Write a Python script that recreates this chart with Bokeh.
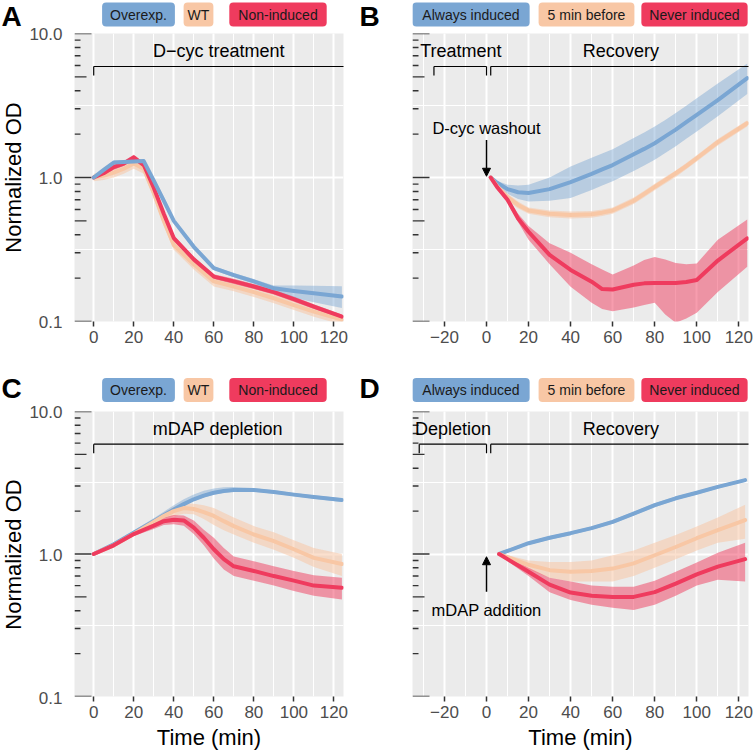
from bokeh.plotting import figure
from bokeh.layouts import column, row
from bokeh.models import (Range1d, FixedTicker, SingleIntervalTicker, CustomJSTickFormatter,
                          Label, Arrow, NormalHead)
from bokeh.embed import file_html
from bokeh.resources import INLINE

FONT = "Liberation Sans"
BLUE = "#7AA6D3"
PEACH = "#F8C7A5"
RED = "#EF3B5E"

# ---------------- data ----------------
# Panel A : D-cyc treatment
a_time = [0, 5, 10, 15, 20, 25, 30, 35, 40, 50, 60, 70, 80, 90, 100, 110, 124]
a_over = [1.00, 1.13, 1.27, 1.28, 1.29, 1.30, 0.95, 0.69, 0.50, 0.33, 0.235, 0.21, 0.19, 0.17, 0.163, 0.157, 0.149]
a_over_lo = [0.98, 1.10, 1.23, 1.24, 1.25, 1.26, 0.92, 0.67, 0.485, 0.32, 0.228, 0.203, 0.183, 0.162, 0.146, 0.136, 0.124]
a_over_hi = [1.02, 1.16, 1.31, 1.32, 1.33, 1.34, 0.98, 0.71, 0.515, 0.34, 0.242, 0.217, 0.197, 0.178, 0.178, 0.177, 0.176]
a_wt = [1.00, 1.03, 1.08, 1.15, 1.25, 1.15, 0.78, 0.50, 0.34, 0.25, 0.19, 0.175, 0.16, 0.145, 0.13, 0.117, 0.103]
a_wt_lo = [0.94, 0.96, 1.00, 1.06, 1.15, 1.06, 0.72, 0.46, 0.315, 0.23, 0.175, 0.162, 0.148, 0.134, 0.12, 0.108, 0.095]
a_wt_hi = [1.06, 1.10, 1.16, 1.24, 1.35, 1.25, 0.84, 0.54, 0.365, 0.27, 0.205, 0.189, 0.173, 0.157, 0.141, 0.127, 0.112]
a_non = [1.00, 1.07, 1.18, 1.25, 1.38, 1.22, 0.85, 0.56, 0.38, 0.27, 0.205, 0.19, 0.175, 0.16, 0.143, 0.127, 0.108]
a_non_lo = [0.97, 1.03, 1.13, 1.20, 1.32, 1.17, 0.82, 0.54, 0.365, 0.26, 0.197, 0.182, 0.168, 0.154, 0.137, 0.122, 0.104]
a_non_hi = [1.03, 1.11, 1.23, 1.30, 1.44, 1.27, 0.88, 0.58, 0.395, 0.28, 0.213, 0.198, 0.182, 0.166, 0.149, 0.132, 0.112]

# Panel B : recovery after D-cyc washout
b_time = [2, 5, 10, 15, 20, 30, 40, 50, 55, 60, 70, 75, 80, 85, 90, 95, 100, 110, 124]
b_always = [1.0, 0.92, 0.83, 0.79, 0.78, 0.83, 0.93, 1.06, 1.14, 1.22, 1.45, 1.58, 1.73, 1.93, 2.15, 2.42, 2.72, 3.45, 4.9]
b_always_lo = [0.98, 0.89, 0.77, 0.71, 0.68, 0.69, 0.72, 0.82, 0.88, 0.94, 1.11, 1.21, 1.33, 1.48, 1.65, 1.86, 2.09, 2.66, 3.8]
b_always_hi = [1.02, 0.95, 0.89, 0.88, 0.89, 1.0, 1.19, 1.37, 1.47, 1.57, 1.88, 2.05, 2.26, 2.51, 2.80, 3.15, 3.55, 4.50, 6.2]
b_before = [1.0, 0.87, 0.73, 0.645, 0.59, 0.56, 0.55, 0.555, 0.57, 0.59, 0.69, 0.77, 0.86, 0.96, 1.07, 1.20, 1.36, 1.76, 2.38]
b_before_lo = [0.98, 0.83, 0.69, 0.61, 0.56, 0.53, 0.52, 0.525, 0.54, 0.56, 0.655, 0.73, 0.815, 0.91, 1.01, 1.14, 1.29, 1.67, 2.26]
b_before_hi = [1.02, 0.91, 0.77, 0.68, 0.62, 0.59, 0.58, 0.585, 0.60, 0.62, 0.725, 0.81, 0.905, 1.01, 1.12, 1.26, 1.43, 1.85, 2.5]
b_never = [1.0, 0.86, 0.70, 0.52, 0.42, 0.29, 0.228, 0.189, 0.168, 0.167, 0.18, 0.184, 0.185, 0.185, 0.185, 0.188, 0.194, 0.265, 0.378]
b_never_lo = [0.98, 0.83, 0.67, 0.49, 0.37, 0.25, 0.174, 0.135, 0.122, 0.118, 0.125, 0.13, 0.135, 0.112, 0.098, 0.105, 0.115, 0.16, 0.24]
b_never_hi = [1.02, 0.89, 0.73, 0.56, 0.46, 0.35, 0.30, 0.25, 0.23, 0.212, 0.245, 0.267, 0.28, 0.27, 0.255, 0.25, 0.253, 0.37, 0.51]

# Panel C : mDAP depletion
c_time = [0, 10, 20, 30, 35, 40, 45, 50, 55, 60, 65, 70, 80, 90, 100, 110, 124]
c_over = [1.0, 1.17, 1.41, 1.70, 1.87, 2.05, 2.24, 2.42, 2.57, 2.69, 2.77, 2.81, 2.81, 2.72, 2.61, 2.51, 2.39]
c_over_lo = [0.98, 1.14, 1.37, 1.65, 1.81, 1.99, 2.17, 2.35, 2.49, 2.61, 2.69, 2.73, 2.73, 2.65, 2.54, 2.44, 2.32]
c_over_hi = [1.02, 1.20, 1.46, 1.78, 1.98, 2.20, 2.42, 2.62, 2.78, 2.88, 2.94, 2.95, 2.90, 2.80, 2.68, 2.58, 2.46]
c_wt = [1.0, 1.15, 1.38, 1.68, 1.85, 2.0, 2.1, 2.07, 1.97, 1.85, 1.70, 1.57, 1.37, 1.23, 1.08, 0.94, 0.85]
c_wt_lo = [0.98, 1.12, 1.34, 1.62, 1.77, 1.85, 1.92, 1.90, 1.76, 1.60, 1.47, 1.37, 1.20, 1.07, 0.94, 0.81, 0.70]
c_wt_hi = [1.02, 1.18, 1.42, 1.75, 1.94, 2.15, 2.26, 2.25, 2.20, 2.10, 1.95, 1.80, 1.57, 1.42, 1.25, 1.10, 1.0]
c_non = [1.0, 1.15, 1.38, 1.58, 1.70, 1.74, 1.72, 1.53, 1.30, 1.08, 0.92, 0.82, 0.76, 0.70, 0.65, 0.60, 0.58]
c_non_lo = [0.98, 1.12, 1.34, 1.50, 1.60, 1.62, 1.58, 1.38, 1.15, 0.93, 0.78, 0.70, 0.65, 0.60, 0.55, 0.51, 0.48]
c_non_hi = [1.02, 1.18, 1.42, 1.66, 1.80, 1.88, 1.86, 1.72, 1.48, 1.30, 1.10, 0.96, 0.89, 0.82, 0.76, 0.71, 0.68]

# Panel D : recovery after mDAP addition
d_time = [6, 10, 20, 30, 40, 50, 60, 70, 80, 90, 100, 110, 123]
d_always = [1.0, 1.05, 1.19, 1.30, 1.40, 1.52, 1.68, 1.92, 2.20, 2.46, 2.69, 2.96, 3.30]
d_always_lo = [0.98, 1.02, 1.16, 1.26, 1.36, 1.48, 1.63, 1.86, 2.13, 2.39, 2.62, 2.88, 3.22]
d_always_hi = [1.02, 1.08, 1.22, 1.34, 1.44, 1.56, 1.73, 1.98, 2.27, 2.53, 2.76, 3.04, 3.38]
d_before = [1.0, 0.95, 0.84, 0.77, 0.75, 0.76, 0.79, 0.86, 0.98, 1.12, 1.29, 1.47, 1.73]
d_before_lo = [0.98, 0.92, 0.78, 0.68, 0.64, 0.64, 0.64, 0.70, 0.80, 0.92, 1.06, 1.20, 1.28]
d_before_hi = [1.02, 0.98, 0.90, 0.88, 0.88, 0.90, 0.98, 1.06, 1.20, 1.36, 1.56, 1.80, 2.22]
d_never = [1.0, 0.92, 0.75, 0.61, 0.536, 0.51, 0.50, 0.50, 0.54, 0.62, 0.72, 0.815, 0.92]
d_never_lo = [0.98, 0.89, 0.70, 0.54, 0.475, 0.44, 0.42, 0.405, 0.44, 0.51, 0.60, 0.66, 0.64]
d_never_hi = [1.02, 0.95, 0.80, 0.68, 0.64, 0.60, 0.59, 0.59, 0.65, 0.75, 0.87, 1.02, 1.20]

legend_left = ["Overexp.", "WT", "Non-induced"]
legend_right = ["Always induced", "5 min before", "Never induced"]
y_tick_values = [0.1, 1.0, 10.0]
y_tick_labels = ["0.1", "1.0", "10.0"]

# ---------------- layout constants (page pixels) ----------------
COL_X = [0, 70, 355, 383, 753]          # edges: label col | A/C | letter col | B/D
ROW_Y = [0, 370, 752]
STRIP_H = [27, 33]
FRAME_TOP = [33, 411]
FRAME_H = [288, 286]
FRAME_L = [74, 412]
FRAME_W = [269, 336]
XR = [(-9.6, 124.8), (-35.2, 124.6)]
LEG_CY = [14, 389.5]
LETTER_CY = [16, 388]
LEG_X = [[138, 198, 277.5], [470.5, 586, 694]]
LEG_PAD = [[8, 4, 9], [10, 9, 8]]


def base_fig(w, h, xr, yr, log_y=False, **kw):
    p = figure(width=w, height=h, x_range=Range1d(*xr), y_range=Range1d(*yr),
               y_axis_type="log" if log_y else "linear", output_backend="svg",
               toolbar_location=None, **kw)
    p.outline_line_color = None
    p.border_fill_color = "white"
    return p


def blank_fig(w, h, xr, yr, log_y=False, bl=0, br=0):
    p = base_fig(w, h, xr, yr, log_y, x_axis_location=None, y_axis_location=None,
                 min_border_left=bl, min_border_right=br, min_border_top=0, min_border_bottom=0)
    p.grid.visible = False
    p.background_fill_color = "white"
    return p


def col_edges(ci):
    return (COL_X[1], COL_X[2]) if ci == 0 else (COL_X[3], COL_X[4])


def main_fig(ci, ri, show_xlabel):
    x0, x1 = col_edges(ci)
    w = x1 - x0
    h = ROW_Y[ri + 1] - ROW_Y[ri] - STRIP_H[ri]
    top = FRAME_TOP[ri] - ROW_Y[ri] - STRIP_H[ri]
    left = FRAME_L[ci] - x0
    p = base_fig(w, h, XR[ci], (0.1, 10), True,
                 min_border_left=left, min_border_right=w - left - FRAME_W[ci],
                 min_border_top=top, min_border_bottom=h - top - FRAME_H[ri])
    p.background_fill_color = "#EBEBEB"
    yt = FixedTicker(ticks=y_tick_values, minor_ticks=[10 ** -0.5, 10 ** 0.5])
    xt = SingleIntervalTicker(interval=20, num_minor_ticks=2)
    p.xaxis.ticker = xt
    p.xgrid.ticker = xt
    p.yaxis.ticker = yt
    p.ygrid.ticker = yt
    p.yaxis.visible = False
    for g in (p.xgrid, p.ygrid):
        g.grid_line_color = "white"
        g.grid_line_width = 2
        g.minor_grid_line_color = "white"
        g.minor_grid_line_width = 1
    ax = p.xaxis[0]
    ax.axis_line_color = None
    ax.major_tick_in = 0
    ax.major_tick_out = 5
    ax.major_tick_line_color = "#333333"
    ax.major_tick_line_width = 1.5
    ax.minor_tick_line_color = None
    ax.major_label_text_font = FONT
    ax.major_label_text_font_size = "17px"
    ax.major_label_text_color = "#4D4D4D"
    ax.major_label_standoff = 4
    ax.formatter = CustomJSTickFormatter(code="return tick < 0 ? '\u2212' + (-tick) : '' + tick;")
    if show_xlabel:
        ax.axis_label = "Time (min)"
        ax.axis_label_text_font = FONT
        ax.axis_label_text_font_size = "22px"
        ax.axis_label_text_font_style = "normal"
        ax.axis_label_text_color = "black"
        ax.axis_label_standoff = 4
    # log ticks drawn inside the panel, as in ggplot's annotation_logticks
    xr = XR[ci]
    ppu = FRAME_W[ci] / (xr[1] - xr[0])
    ys, lens = [], []
    for dec in (0.1, 1.0):
        for k in range(1, 11):
            if dec == 1.0 and k == 1:
                continue
            ys.append(dec * k)
            lens.append(17 if k in (1, 10) else (12 if k == 5 else 6))
    p.segment(x0=[xr[0]] * len(ys), y0=ys, x1=[xr[0] + L / ppu for L in lens], y1=ys,
              line_color="#333333", line_width=1.4)
    return p


def label_col(ri, letter, with_axis):
    """Narrow column left of a panel: panel letter, y tick labels, y title."""
    cx0, cx1 = (COL_X[0], COL_X[1]) if with_axis else (COL_X[2], COL_X[3])
    h = ROW_Y[ri + 1] - ROW_Y[ri]
    ft = FRAME_TOP[ri] - ROW_Y[ri]
    fb = ft + FRAME_H[ri]
    dec = FRAME_H[ri] / 2.0
    yr = (10 ** (-1 - (h - fb) / dec), 10 ** (1 + ft / dec))
    p = blank_fig(cx1 - cx0, h, (cx0, cx1), yr, True)
    p.add_layout(Label(x=(cx0 + cx1) / 2 if not with_axis else 11, y=h - (LETTER_CY[ri] - ROW_Y[ri]),
                       x_units="data", y_units="screen", text=letter,
                       text_align="center", text_baseline="middle", text_font=FONT,
                       text_font_size="28px", text_font_style="bold", text_color="black"))
    if with_axis:
        for v, t in zip(y_tick_values, y_tick_labels):
            p.add_layout(Label(x=62, y=v, text=t, text_align="right", text_baseline="middle",
                               text_font=FONT, text_font_size="17px", text_color="#4D4D4D"))
        p.add_layout(Label(x=13, y=1.0, text="Normalized OD", angle=1.5707963,
                           text_align="center", text_baseline="middle", text_font=FONT,
                           text_font_size="22px", text_color="black"))
    return p


def strip(ci, ri, names):
    # same side borders as the panel below so that the frames (which Bokeh aligns) coincide
    x0, x1 = col_edges(ci)
    y0 = ROW_Y[ri]
    h = STRIP_H[ri]
    fl, fr = FRAME_L[ci], FRAME_L[ci] + FRAME_W[ci]
    s = blank_fig(x1 - x0, h, (fl, fr), (y0 + h, y0), bl=fl - x0, br=x1 - fr)
    for name, col, cx, pad in zip(names, [BLUE, PEACH, RED], LEG_X[ci], LEG_PAD[ci]):
        s.add_layout(Label(x=cx, y=LEG_CY[ri], text=name, text_align="center", text_baseline="middle",
                           text_font=FONT, text_font_size="14px", text_color="#1A1A1A",
                           background_fill_color=col, background_fill_alpha=1.0,
                           border_radius=4, padding=dict(left=pad, right=pad, top=4, bottom=4)))
    return s


def draw_series(p, t, series):
    for mean, lo, hi, col, alpha in series:
        p.varea(x=t, y1=lo, y2=hi, fill_color=col, fill_alpha=alpha)
    for mean, lo, hi, col, alpha in series:
        p.line(x=t, y=mean, line_color=col, line_width=4, line_join="round", line_cap="round")


def data_text(p, x, y, text, size):
    p.add_layout(Label(x=x, y=y, text=text, text_align="center", text_baseline="middle",
                       text_font=FONT, text_font_size=size, text_color="black"))


def bracket(p, x_from, x_to, y_line, y_tick, ticks):
    xs0 = [x_from] + list(ticks)
    ys0 = [y_line] * (len(ticks) + 1)
    xs1 = [x_to] + list(ticks)
    ys1 = [y_line] + [y_tick] * len(ticks)
    p.segment(x0=xs0, y0=ys0, x1=xs1, y1=ys1, line_color="black", line_width=1.2)


def arrow(p, x, y0, y1):
    p.add_layout(Arrow(end=NormalHead(size=8, fill_color="black", line_color="black", line_width=1),
                       x_start=x, y_start=y0, x_end=x, y_end=y1, line_color="black", line_width=1.5))


# ---- A ----
pA = main_fig(0, 0, False)
draw_series(pA, a_time, [
    (a_wt, a_wt_lo, a_wt_hi, PEACH, 0.55),
    (a_non, a_non_lo, a_non_hi, RED, 0.5),
    (a_over, a_over_lo, a_over_hi, BLUE, 0.45),
])
bracket(pA, 0, XR[0][1] + 5, 5.9, 5.1, [0])
data_text(pA, 62.5, 7.5, "D\u2212cyc treatment", "18px")

# ---- B ----
pB = main_fig(1, 0, False)
draw_series(pB, b_time, [
    (b_always, b_always_lo, b_always_hi, BLUE, 0.45),
    (b_before, b_before_lo, b_before_hi, PEACH, 0.55),
    (b_never, b_never_lo, b_never_hi, RED, 0.5),
])
bracket(pB, -25, 0, 5.9, 5.1, [-25, 0])
bracket(pB, 2, XR[1][1] + 5, 5.9, 5.1, [2])
data_text(pB, -12.2, 7.5, "Treatment", "18px")
data_text(pB, 63.9, 7.5, "Recovery", "18px")
data_text(pB, 0, 2.2, "D-cyc washout", "16.5px")
arrow(pB, 0, 1.82, 1.02)

# ---- C ----
pC = main_fig(0, 1, True)
draw_series(pC, c_time, [
    (c_over, c_over_lo, c_over_hi, BLUE, 0.45),
    (c_wt, c_wt_lo, c_wt_hi, PEACH, 0.55),
    (c_non, c_non_lo, c_non_hi, RED, 0.5),
])
bracket(pC, 0, XR[0][1] + 5, 5.9, 5.1, [0])
data_text(pC, 62, 7.5, "mDAP depletion", "18px")

# ---- D ----
pD = main_fig(1, 1, True)
draw_series(pD, d_time, [
    (d_always, d_always_lo, d_always_hi, BLUE, 0.45),
    (d_before, d_before_lo, d_before_hi, PEACH, 0.55),
    (d_never, d_never_lo, d_never_hi, RED, 0.5),
])
bracket(pD, -32, 0, 5.9, 5.1, [-32, 0])
bracket(pD, 2, XR[1][1] + 5, 5.9, 5.1, [2])
data_text(pD, -15.9, 7.5, "Depletion", "18px")
data_text(pD, 63.9, 7.5, "Recovery", "18px")
data_text(pD, 0, 0.405, "mDAP addition", "16.5px")
arrow(pD, 0, 0.544, 0.957)

top_row = row(label_col(0, "A", True), column(strip(0, 0, legend_left), pA),
              label_col(0, "B", False), column(strip(1, 0, legend_right), pB))
bottom_row = row(label_col(1, "C", True), column(strip(0, 1, legend_left), pC),
                 label_col(1, "D", False), column(strip(1, 1, legend_right), pD))
layout = column(top_row, bottom_row)
open("out.html", "w").write(file_html(layout, INLINE))
